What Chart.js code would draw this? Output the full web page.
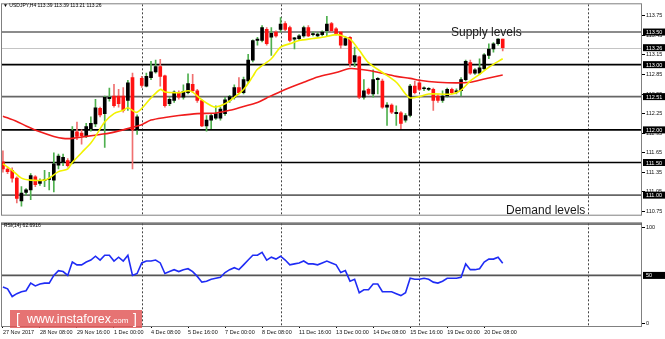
<!DOCTYPE html>
<html>
<head>
<meta charset="utf-8">
<script src="https://cdn.jsdelivr.net/npm/chart.js@4.4.1/dist/chart.umd.min.js"></script>
<style>
  html, body { margin: 0; padding: 0; background: #fff; }
  #wrap { position: relative; width: 665px; height: 339px; overflow: hidden; font-family: "Liberation Sans", Arial, sans-serif; }
  #priceChart { position: absolute; left: 0; top: 0; }
  #rsiChart { position: absolute; left: 0; top: 219px; }
  .txt { position: absolute; white-space: nowrap; color: #000; }
  #title { left: 3px; top: 2px; font-size: 5px; line-height: 6px; }
  #supply { left: 451px; top: 25px; font-size: 12px; line-height: 14px; color: #1a1a1a; }
  #demand { left: 506px; top: 203px; font-size: 12px; line-height: 14px; color: #1a1a1a; }
  #rsiLabel { left: 4px; top: 222px; font-size: 5px; line-height: 6px; }
  #mark { left: 10px; top: 310px; width: 132px; height: 18px; background: rgba(224, 84, 84, 0.82); color: #fff; }
  #mark span { position: absolute; top: 0; line-height: 18px; }
</style>
</head>
<body>
<div id="wrap">
  <canvas id="priceChart" width="665" height="219"></canvas>
  <canvas id="rsiChart" width="665" height="120"></canvas>
  <div class="txt" id="title">&#9660; USDJPY,H4 113.39 113.39 113.21 113.26</div>
  <div class="txt" id="supply">Supply levels</div>
  <div class="txt" id="demand">Demand levels</div>
  <div class="txt" id="rsiLabel">RSI(14) 62.6916</div>
  <div class="txt" id="mark">
    <span style="left:6px;font-size:14px;">[</span>
    <span style="left:17px;font-size:12.5px;">www.instaforex<span style="position:static;font-size:8px;">.com</span></span>
    <span style="left:123px;font-size:14px;">]</span>
  </div>
</div>
<script>
// H4 candles, bar 0 = 27 Nov 2017 00:00
const openPrices = [
  111.51,111.40,111.38,111.26,110.91,111.04,111.08,111.28,111.18,111.22,
  111.24,111.23,111.46,111.50,111.53,111.49,111.97,111.95,111.90,112.02,
  112.09,112.33,112.25,112.48,112.52,112.52,112.52,112.45,112.80,112.00,
  112.79,112.67,112.80,112.89,112.97,112.83,112.40,112.45,112.57,112.50,
  112.57,112.70,112.60,112.45,112.06,112.15,112.18,112.18,112.25,112.45,
  112.50,112.65,112.57,112.75,113.07,113.37,113.37,113.54,113.42,113.50,
  113.54,113.63,113.57,113.39,113.40,113.44,113.57,113.46,113.44,113.46,
  113.52,113.63,113.55,113.50,113.30,113.42,113.04,113.12,112.50,112.62,
  112.55,112.77,112.75,112.35,112.38,112.25,112.26,112.15,112.22,112.67,
  112.72,112.63,112.62,112.62,112.52,112.45,112.52,112.62,112.58,112.60,
  112.77,113.03,112.87,112.87,112.94,113.14,113.24,113.32,113.39
];
const highPrices = [
  111.68,111.43,111.42,111.28,111.13,111.10,111.33,111.30,111.25,111.38,
  111.35,111.65,111.63,111.63,111.56,112.05,112.12,112.00,112.10,112.20,
  112.47,112.35,112.52,112.64,112.70,112.62,112.65,112.76,112.87,112.23,
  112.82,112.87,113.05,113.07,113.08,112.84,112.50,112.60,112.60,112.69,
  112.86,112.85,112.62,112.46,112.22,112.25,112.37,112.35,112.50,112.53,
  112.69,112.80,112.81,113.16,113.38,113.42,113.60,113.57,113.57,113.52,
  113.72,113.66,113.59,113.42,113.46,113.59,113.60,113.50,113.49,113.52,
  113.74,113.65,113.57,113.51,113.43,113.43,113.27,113.13,112.77,112.64,
  112.92,112.80,112.78,112.42,112.40,112.37,112.28,112.25,112.70,112.75,
  112.77,112.66,112.65,112.64,112.54,112.60,112.64,112.64,112.63,112.80,
  113.07,113.07,112.94,113.09,113.17,113.32,113.34,113.40,113.39
];
const lowPrices = [
  111.35,111.33,111.20,110.88,110.83,111.00,110.93,111.13,111.15,111.13,
  111.08,111.05,111.40,111.45,111.43,111.48,111.85,111.78,111.88,111.98,
  112.05,112.20,111.73,112.44,112.35,112.35,112.27,112.30,111.40,111.93,
  112.65,112.66,112.77,112.87,112.67,112.35,112.37,112.42,112.47,112.47,
  112.55,112.57,112.42,112.05,111.98,112.02,112.16,112.15,112.22,112.42,
  112.47,112.55,112.55,112.72,113.04,113.30,113.35,113.30,113.14,113.42,
  113.50,113.52,113.35,113.24,113.37,113.42,113.43,113.44,113.42,113.44,
  113.44,113.50,113.45,113.25,113.29,112.97,112.97,112.48,112.47,112.54,
  112.50,112.55,112.33,112.07,112.25,112.07,112.02,112.12,112.20,112.55,
  112.60,112.60,112.60,112.30,112.42,112.42,112.50,112.55,112.55,112.52,
  112.75,112.85,112.85,112.85,112.92,113.09,113.19,113.30,113.21
];
const closePrices = [
  111.40,111.36,111.26,110.95,111.03,111.08,111.30,111.16,111.22,111.24,
  111.25,111.48,111.60,111.58,111.45,111.99,111.90,111.91,112.05,112.10,
  112.34,112.23,112.50,112.50,112.37,112.40,112.30,112.72,112.00,112.20,
  112.68,112.82,112.89,112.97,112.82,112.37,112.47,112.58,112.50,112.59,
  112.71,112.60,112.45,112.06,112.15,112.22,112.25,112.32,112.46,112.51,
  112.65,112.57,112.77,113.07,113.37,113.39,113.57,113.32,113.48,113.44,
  113.62,113.54,113.37,113.41,113.44,113.57,113.44,113.47,113.47,113.50,
  113.62,113.52,113.47,113.30,113.40,113.02,113.14,112.50,112.60,112.56,
  112.77,112.79,112.35,112.38,112.27,112.27,112.10,112.22,112.67,112.57,
  112.62,112.64,112.63,112.45,112.45,112.52,112.62,112.57,112.60,112.77,
  113.05,112.87,112.92,112.95,113.15,113.24,113.32,113.39,113.26
];

// moving averages at these bars
const fastMaBars = [0,2,4,6,9,10,12,14,15,17,19,20,22,24,26,27,29,32,34,35,38,40,41,43,45,46,48,50,52,54,55,58,60,62,64,67,69,72,73,75,77,79,82,85,87,88,90,92,97,99,101,103,105,108];
const fastMaValues = [111.48,111.38,111.26,111.23,111.23,111.26,111.36,111.40,111.50,111.65,111.80,111.90,112.12,112.25,112.30,112.34,112.27,112.49,112.62,112.58,112.57,112.60,112.58,112.46,112.37,112.35,112.40,112.50,112.62,112.82,112.93,113.09,113.27,113.32,113.37,113.40,113.42,113.46,113.45,113.39,113.22,113.03,112.88,112.73,112.55,112.49,112.51,112.55,112.55,112.61,112.75,112.85,112.96,113.09];
const slowMaBars = [0,3,5,8,11,13,15,18,21,23,26,28,30,32,35,38,42,46,49,52,55,57,61,65,68,72,75,77,80,85,88,90,94,98,101,104,108];
const slowMaValues = [112.21,112.13,112.06,111.97,111.90,111.87,111.87,111.90,111.93,111.95,112.00,112.04,112.08,112.15,112.19,112.22,112.25,112.26,112.30,112.36,112.42,112.49,112.62,112.73,112.81,112.88,112.94,112.93,112.90,112.82,112.79,112.76,112.73,112.72,112.73,112.78,112.84];

const rsiValues = [
  38,36,28,31,33,34,42,39,41,42,
  42,50,55,54,50,64,61,61,64,66,
  70,66,71,71,65,69,65,71,50,52,
  63,65,65,66,63,52,54,56,54,56,
  57,54,49,43,44,46,47,48,53,56,
  58,56,61,66,71,71,74,66,69,67,
  70,66,61,62,63,65,62,62,61,63,
  65,63,61,53,55,44,46,32,35,35,
  41,41,33,33,33,31,29,32,47,46,
  46,47,46,43,42,44,47,47,47,48,
  62,56,56,57,64,67,67,69,62.69
];

const levelPrices = [113.50, 113.00, 112.51, 112.00, 111.50, 111.00];
const bidPrice = 113.26;
const rsiLevel = 50;
const priceTicks = [110.75, 111.05, 111.35, 111.65, 111.95, 112.25, 112.55, 112.85, 113.15, 113.45, 113.75];
const rsiTicks = [0, 100];
const timeLabels = ['27 Nov 2017', '28 Nov 08:00', '29 Nov 16:00', '1 Dec 00:00', '4 Dec 08:00', '5 Dec 16:00', '7 Dec 00:00', '8 Dec 08:00', '11 Dec 16:00', '13 Dec 00:00', '14 Dec 08:00', '15 Dec 16:00', '19 Dec 00:00', '20 Dec 08:00'];
const timeLabelBars = [0, 8, 16, 24, 32, 40, 48, 56, 64, 72, 80, 88, 96, 104];
const separatorBars = [30, 60, 90, 126.4];

// styles
const BULL_BODY = '#000000', BEAR_BODY = '#ff1111';
const BULL_WICK = '#4fb04f', BEAR_WICK = '#f07070';
const levelColors = ['#666', '#000', '#666', '#000', '#000', '#666'];
const FONT = { family: 'Liberation Sans', size: 5.5 };
const X_MIN = -0.2, X_MAX = 138.1;

const isBull = openPrices.map((o, i) => closePrices[i] >= o);

function drawSeparators(ctx, area, x) {
  ctx.save();
  ctx.strokeStyle = '#444';
  ctx.lineWidth = 1;
  ctx.setLineDash([2, 2]);
  separatorBars.forEach(b => {
    const px = Math.round(x.getPixelForValue(b)) + 0.5;
    ctx.beginPath();
    ctx.moveTo(px, area.top);
    ctx.lineTo(px, area.bottom);
    ctx.stroke();
  });
  ctx.restore();
}

function drawBox(ctx, area, py, label) {
  ctx.save();
  ctx.fillStyle = '#000';
  ctx.fillRect(area.right + 1, py - 3.5, 22, 7);
  ctx.fillStyle = '#fff';
  ctx.font = '5.5px "Liberation Sans"';
  ctx.textBaseline = 'middle';
  ctx.fillText(label, area.right + 4, py + 0.5);
  ctx.restore();
}

function drawFrame(ctx, area) {
  ctx.save();
  ctx.strokeStyle = '#808080';
  ctx.lineWidth = 1;
  ctx.strokeRect(area.left - 0.5, area.top - 0.5, area.right - area.left, area.bottom - area.top + 1);
  ctx.restore();
}

const priceDecor = {
  id: 'priceDecor',
  beforeDatasetsDraw(chart) {
    const { ctx, chartArea: a, scales: { x, y } } = chart;
    drawSeparators(ctx, a, x);
    ctx.save();
    ctx.strokeStyle = '#c4c4c4';
    ctx.lineWidth = 1;
    let py = Math.round(y.getPixelForValue(bidPrice)) + 0.5;
    ctx.beginPath(); ctx.moveTo(a.left, py); ctx.lineTo(a.right, py); ctx.stroke();
    ctx.lineWidth = 1.6;
    levelPrices.forEach((p, i) => {
      ctx.strokeStyle = levelColors[i];
      const ly = y.getPixelForValue(p);
      ctx.beginPath(); ctx.moveTo(a.left, ly); ctx.lineTo(a.right, ly); ctx.stroke();
    });
    ctx.restore();
  },
  afterDraw(chart) {
    const { ctx, chartArea: a, scales: { y } } = chart;
    drawFrame(ctx, a);
    drawBox(ctx, a, y.getPixelForValue(bidPrice), bidPrice.toFixed(2));
    levelPrices.forEach(p => drawBox(ctx, a, y.getPixelForValue(p), p.toFixed(2)));
  }
};

const rsiDecor = {
  id: 'rsiDecor',
  beforeDatasetsDraw(chart) {
    const { ctx, chartArea: a, scales: { x, y } } = chart;
    drawSeparators(ctx, a, x);
    ctx.save();
    ctx.strokeStyle = '#555';
    ctx.lineWidth = 1.6;
    const py = y.getPixelForValue(rsiLevel);
    ctx.beginPath(); ctx.moveTo(a.left, py); ctx.lineTo(a.right, py); ctx.stroke();
    ctx.restore();
  },
  afterDraw(chart) {
    const { ctx, chartArea: a, scales: { y } } = chart;
    drawFrame(ctx, a);
    ctx.save();
    ctx.fillStyle = '#555';
    ctx.fillRect(a.left - 1, a.top, a.right - a.left + 1, 1.5);
    ctx.restore();
    drawBox(ctx, a, y.getPixelForValue(rsiLevel), String(rsiLevel));
  }
};

const commonX = {
  type: 'linear',
  min: X_MIN,
  max: X_MAX,
  offset: false,
  grid: { display: false },
  border: { display: false }
};

new Chart(document.getElementById('priceChart'), {
  type: 'bar',
  data: {
    datasets: [
      {
        label: 'wick',
        data: highPrices.map((h, i) => ({ x: i, y: [lowPrices[i], h] })),
        backgroundColor: isBull.map(b => b ? BULL_WICK : BEAR_WICK),
        barThickness: 1,
        grouped: false,
        order: 3
      },
      {
        label: 'body',
        data: openPrices.map((o, i) => ({ x: i, y: [o, closePrices[i]] })),
        backgroundColor: isBull.map(b => b ? BULL_BODY : BEAR_BODY),
        barThickness: 3,
        minBarLength: 1,
        grouped: false,
        order: 2
      },
      {
        type: 'line',
        label: 'slow MA',
        data: slowMaBars.map((b, i) => ({ x: b, y: slowMaValues[i] })),
        borderColor: '#f01c1c',
        borderWidth: 1.6,
        pointRadius: 0,
        tension: 0.3,
        order: 1
      },
      {
        type: 'line',
        label: 'fast MA',
        data: fastMaBars.map((b, i) => ({ x: b, y: fastMaValues[i] })),
        borderColor: '#f2f200',
        borderWidth: 1.6,
        pointRadius: 0,
        tension: 0.3,
        order: 0
      }
    ]
  },
  options: {
    responsive: false,
    devicePixelRatio: 1,
    animation: false,
    events: [],
    layout: { padding: { left: 2, top: 1, right: 0, bottom: 2 } },
    plugins: { legend: { display: false }, tooltip: { enabled: false } },
    scales: {
      x: Object.assign({ display: false }, commonX),
      y: {
        position: 'right',
        min: 110.70,
        max: 113.925,
        afterBuildTicks: s => { s.ticks = priceTicks.map(v => ({ value: v })); },
        afterFit: s => { s.width = 23; },
        grid: { drawOnChartArea: false, tickLength: 3, color: '#000' },
        border: { display: false },
        ticks: { padding: 1, color: '#111', font: FONT, callback: v => v.toFixed(2) }
      }
    }
  },
  plugins: [priceDecor]
});

new Chart(document.getElementById('rsiChart'), {
  type: 'line',
  data: {
    datasets: [{
      label: 'RSI(14)',
      data: rsiValues.map((v, i) => ({ x: i, y: v })),
      borderColor: '#1f2cf5',
      borderWidth: 1.6,
      pointRadius: 0,
      tension: 0
    }]
  },
  options: {
    responsive: false,
    devicePixelRatio: 1,
    animation: false,
    events: [],
    layout: { padding: { left: 2, top: 0, right: 0, bottom: 0 } },
    plugins: { legend: { display: false }, tooltip: { enabled: false } },
    scales: {
      x: Object.assign({}, commonX, {
        afterBuildTicks: s => { s.ticks = timeLabelBars.map(v => ({ value: v })); },
        afterFit: s => { s.height = 13; },
        grid: { display: true, drawOnChartArea: false, tickLength: 2, color: '#000' },
        ticks: {
          autoSkip: false, maxRotation: 0, align: 'start', padding: 1, color: '#111', font: FONT,
          callback: v => timeLabels[timeLabelBars.indexOf(v)]
        }
      }),
      y: {
        position: 'right',
        min: -2.7,
        max: 104.3,
        afterBuildTicks: s => { s.ticks = rsiTicks.map(v => ({ value: v })); },
        afterFit: s => { s.width = 23; },
        grid: { drawOnChartArea: false, tickLength: 3, color: '#000' },
        border: { display: false },
        ticks: { padding: 1, color: '#111', font: FONT, callback: v => String(v) }
      }
    }
  },
  plugins: [rsiDecor]
});
</script>
</body>
</html>
